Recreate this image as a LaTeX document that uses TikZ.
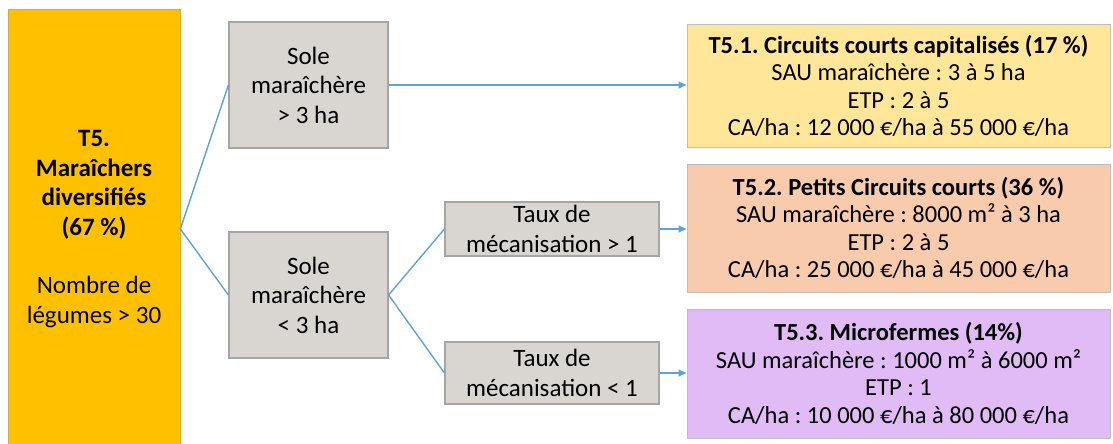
\documentclass[tikz,border=0pt]{standalone}
\usepackage{fontspec}
\setmainfont{Carlito}
\usetikzlibrary{arrows.meta}
\definecolor{linkblue}{RGB}{91,163,218}
\definecolor{mainyellow}{RGB}{255,192,0}
\definecolor{mainedge}{RGB}{214,170,60}
\definecolor{greyfill}{RGB}{217,214,210}
\definecolor{greyedge}{RGB}{165,165,165}
\definecolor{fillA}{RGB}{255,230,153}
\definecolor{fillB}{RGB}{248,203,173}
\definecolor{fillC}{RGB}{224,187,246}
\definecolor{resedge}{RGB}{190,190,190}
\tikzset{
  txt/.style={font=\frenchspacing\fontsize{25}{29.5}\selectfont, align=center, inner sep=0pt},
  mainbox/.style={txt, draw=mainedge, fill=mainyellow, line width=0.8pt},
  critbox/.style={txt, draw=greyedge, fill=greyfill, line width=1.2pt},
  resbox/.style={font=\frenchspacing\fontsize{24.5}{27.5}\selectfont, align=center, inner sep=0pt, draw=resedge, line width=1pt},
  link/.style={draw=linkblue, line width=1.4pt},
  arrowlink/.style={link, -{Triangle[length=8pt,width=7pt]}}
}
\begin{document}
\begin{tikzpicture}[x=1pt,y=-1pt]
\useasboundingbox (0,0) rectangle (1113,444);
\node[mainbox, minimum width=172pt, minimum height=440pt] (t5) at (94,229)
  {\textbf{T5.}\\\textbf{Maraîchers}\\\textbf{diversifiés}\\\textbf{(67 \%)}\\[29pt]Nombre de\\légumes > 30};
\node[critbox, minimum width=159pt, minimum height=126pt] (s1) at (308.5,85)
  {Sole\\maraîchère\\> 3 ha};
\node[critbox, minimum width=159pt, minimum height=126pt] (s2) at (308.5,295)
  {Sole\\maraîchère\\< 3 ha};
\node[critbox, minimum width=214pt, minimum height=54pt] (m1) at (552,229)
  {Taux de\\mécanisation > 1};
\node[critbox, minimum width=214pt, minimum height=62pt] (m2) at (552,373)
  {Taux de\\mécanisation < 1};
\node[resbox, fill=fillA, minimum width=423pt, minimum height=122pt] (r1) at (898.5,86)
  {\textbf{T5.1. Circuits courts capitalisés (17 \%)}\\SAU maraîchère : 3 à 5 ha\\ETP : 2 à 5\\CA/ha : 12 000 €/ha à 55 000 €/ha};
\node[resbox, fill=fillB, minimum width=423pt, minimum height=128pt] (r2) at (898.5,228)
  {\textbf{T5.2. Petits Circuits courts (36 \%)}\\SAU maraîchère : 8000 m² à 3 ha\\ETP : 2 à 5\\CA/ha : 25 000 €/ha à 45 000 €/ha};
\node[resbox, fill=fillC, minimum width=423pt, minimum height=129pt] (r3) at (898.5,373.5)
  {\textbf{T5.3. Microfermes (14\%)}\\SAU maraîchère : 1000 m² à 6000 m²\\ETP : 1\\CA/ha : 10 000 €/ha à 80 000 €/ha};
\draw[link] (t5.east) -- (s1.west);
\draw[link] (t5.east) -- (s2.west);
\draw[link] (s2.east) -- (m1.west);
\draw[link] (s2.east) -- (m2.west);
\draw[arrowlink] (s1.east) -- (s1.east -| r1.west);
\draw[arrowlink] (m1.east) -- (m1.east -| r2.west);
\draw[arrowlink] (m2.east) -- (m2.east -| r3.west);
\end{tikzpicture}
\end{document}
